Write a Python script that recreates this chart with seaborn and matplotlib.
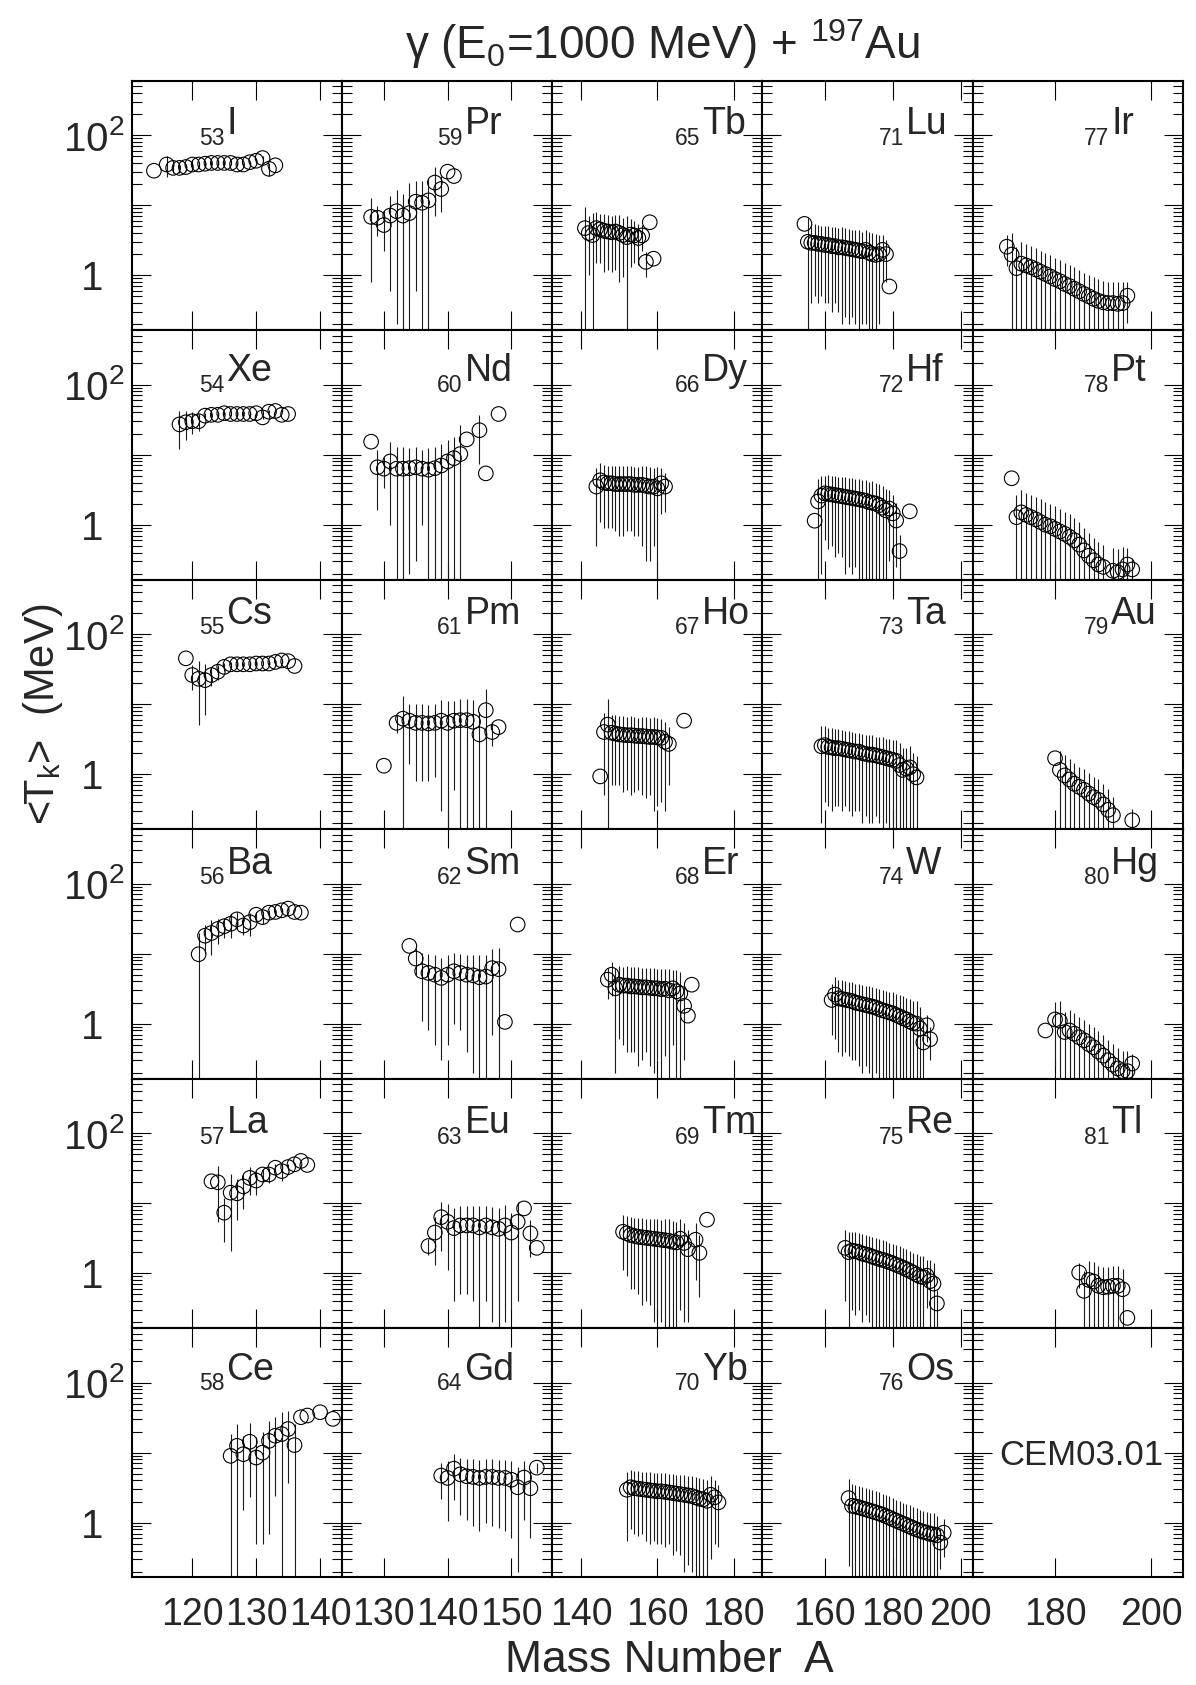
import matplotlib
matplotlib.use("Agg")
import matplotlib.pyplot as plt
from matplotlib.ticker import FixedLocator, FixedFormatter, LogLocator, NullFormatter, NullLocator
import numpy as np
import pandas as pd
import seaborn as sns

# ---- values: mass number A, <T_k> (MeV), error (MeV) ----
I_A = [114, 116, 117, 118, 119, 120, 121, 122, 123, 124, 125, 126, 127, 128, 129, 130, 131, 132, 133]
I_T = [31, 38, 34, 34, 35, 38, 38, 39, 40, 40, 40, 40, 38, 38, 41, 43, 47, 33, 37]
I_dT = [0, 13, 5, 5, 4, 6, 3, 3, 2, 2, 2, 2, 2, 2, 2, 3, 4, 7, 0]

Xe_A = [118, 119, 120, 121, 122, 123, 124, 125, 126, 127, 128, 129, 130, 131, 132, 133, 134, 135]
Xe_T = [27, 29, 30, 30, 36, 37, 37, 39, 38, 38, 38, 38, 39, 34, 41, 42, 37, 38]
Xe_dT = [15, 13, 10, 8, 3, 3, 2, 2, 2, 2, 2, 2, 2, 2, 2, 2, 0, 0]

Cs_A = [119, 120, 121, 122, 123, 124, 125, 126, 127, 128, 129, 130, 131, 132, 133, 134, 135, 136]
Cs_T = [45, 26, 23, 22, 26, 29, 34, 37, 37, 37, 37, 38, 38, 38, 40, 42, 41, 35]
Cs_dT = [0, 10, 18, 15, 8, 7, 4, 3, 2, 2, 2, 2, 2, 2, 2, 2, 2, 0]

Ba_A = [121, 122, 123, 124, 125, 126, 127, 128, 129, 130, 131, 132, 133, 134, 135, 136, 137]
Ba_T = [9.8, 18, 19.7, 22.5, 24.6, 26.6, 30.8, 25.2, 28.1, 35.9, 33.2, 38.4, 39.3, 41.5, 43.9, 39.3, 38.4]
Ba_dT = [10, 8, 10, 9, 8, 10, 8, 7, 10, 4, 7, 3, 3, 3, 2, 0, 0]

La_A = [123, 124, 125, 126, 127, 128, 129, 130, 131, 132, 133, 134, 135, 136, 137, 138]
La_T = [20.5, 19.8, 7.3, 14.1, 13.8, 17.3, 22.9, 21, 25.6, 25.6, 32, 28.6, 32.7, 35.8, 40, 35]
La_dT = [0, 14.5, 4.5, 12, 8, 9, 10, 8, 5, 6, 4, 8, 3, 2, 0, 0]

Ce_A = [126, 127, 128, 129, 130, 131, 132, 133, 134, 135, 136, 137, 138, 140, 142]
Ce_T = [9.0, 12.5, 9.5, 14.3, 8.5, 10.0, 14.7, 17.4, 18.4, 21.7, 12.8, 32, 33.8, 37.7, 30.3]
Ce_dT = [9.5, 13, 8, 12, 8, 9.5, 14, 15, 19, 18, 13, 0, 0, 0, 0]

Pr_A = [128, 129, 130, 131, 132, 133, 134, 135, 136, 137, 138, 139, 140, 141]
Pr_T = [6.8, 6.6, 5.2, 7.1, 8.2, 7.1, 7.7, 11.2, 10.8, 11.7, 21, 17, 30, 26]
Pr_dT = [6, 3, 3, 6.5, 8, 7.5, 13, 10.6, 11, 12, 14, 9, 0, 0]

Nd_A = [128, 129, 130, 131, 132, 133, 134, 135, 136, 137, 138, 139, 140, 141, 142, 143, 145, 146, 148]
Nd_T = [15.3, 6.6, 6.3, 8.0, 6.3, 6.3, 6.4, 6.6, 6.3, 6.1, 6.4, 7.0, 8.0, 8.9, 10.2, 16.5, 22.3, 5.4, 38]
Nd_dT = [0, 5, 3, 7, 6.5, 6.5, 6.2, 6.3, 5.3, 6.5, 6.6, 7.2, 8, 9, 16, 0, 15, 0, 0]

Pm_A = [130, 132, 133, 134, 135, 136, 137, 138, 139, 140, 141, 142, 143, 144, 145, 146, 147, 148]
Pm_T = [1.32, 5.4, 6.2, 5.8, 5.4, 5.4, 5.3, 5.4, 5.8, 5.4, 5.8, 5.9, 5.9, 5.6, 3.7, 8.2, 4.0, 4.7]
Pm_dT = [0, 1.5, 6.7, 4.4, 4.6, 4.6, 4.5, 4.5, 5.5, 5.6, 5.2, 5.8, 6.0, 5.8, 4.0, 8.3, 1.5, 0]

Sm_A = [134, 135, 136, 137, 138, 139, 140, 141, 142, 143, 144, 145, 146, 147, 148, 149, 151]
Sm_T = [12.9, 8.5, 5.6, 5.3, 5.0, 4.5, 5.0, 5.6, 5.3, 5.0, 4.9, 4.6, 4.7, 6.2, 6.0, 1.06, 26]
Sm_dT = [0, 3.5, 4.5, 4.5, 4.5, 4.2, 4.5, 4.6, 4.5, 4.6, 4.7, 4.8, 5.0, 5.5, 6.2, 0, 0]

Eu_A = [137, 138, 139, 140, 141, 142, 143, 144, 145, 146, 147, 148, 149, 150, 151, 152, 153, 154]
Eu_T = [2.44, 3.8, 6.3, 5.4, 4.4, 4.8, 4.8, 4.8, 4.5, 4.8, 4.5, 4.3, 4.8, 3.8, 5.4, 8.4, 3.7, 2.3]
Eu_dT = [0.6, 2.5, 4.2, 4.3, 4.0, 4.3, 4.3, 4.4, 4.5, 4.4, 4.3, 4.2, 4.6, 3.5, 5.0, 0, 2.0, 0]

Gd_A = [139, 140, 141, 142, 143, 144, 145, 146, 147, 148, 149, 150, 151, 152, 153, 154]
Gd_T = [4.7, 4.35, 5.9, 4.9, 4.6, 4.5, 4.35, 4.5, 4.5, 4.35, 4.35, 4.1, 3.2, 4.4, 3.1, 6.1]
Gd_dT = [2.5, 3.3, 3.8, 3.6, 3.5, 3.6, 3.6, 3.5, 3.6, 3.5, 3.6, 3.5, 3.0, 3.3, 2.5, 1.0]

Tb_A = [141, 142, 143, 144, 145, 146, 147, 148, 149, 150, 151, 152, 153, 154, 155, 156, 157, 158, 159]
Tb_T = [4.7, 4.0, 3.75, 4.7, 4.5, 4.3, 4.2, 4.1, 4.2, 4.0, 3.75, 3.5, 3.8, 3.7, 3.4, 3.7, 1.55, 5.7, 1.72]
Tb_dT = [4.8, 3.0, 4.0, 3.2, 3.0, 3.2, 3.0, 3.0, 3.0, 3.2, 2.8, 3.6, 2.5, 2.2, 2.0, 1.5, 0.6, 0, 0]

Dy_A = [144, 145, 146, 147, 148, 149, 150, 151, 152, 153, 154, 155, 156, 157, 158, 159, 160, 161, 162]
Dy_T = [3.5, 4.3, 4.0, 3.9, 3.9, 3.8, 3.8, 3.8, 3.8, 3.8, 3.7, 3.7, 3.7, 3.6, 3.5, 3.5, 3.3, 3.9, 3.5]
Dy_dT = [3.0, 3.2, 3.1, 3.0, 3.0, 3.0, 3.1, 3.1, 3.0, 3.0, 3.0, 3.0, 3.2, 3.3, 3.2, 3.0, 3.4, 2.5, 2.0]

Ho_A = [145, 146, 147, 148, 149, 150, 151, 152, 153, 154, 155, 156, 157, 158, 159, 160, 161, 162, 163, 167]
Ho_T = [0.93, 4.0, 5.1, 3.9, 3.8, 3.7, 3.65, 3.6, 3.6, 3.55, 3.5, 3.5, 3.45, 3.4, 3.4, 3.35, 3.3, 2.9, 2.7, 5.8]
Ho_dT = [0, 3.5, 6.7, 3.2, 3.1, 3.0, 3.1, 3.0, 3.1, 3.0, 2.9, 3.0, 3.0, 2.9, 3.1, 3.0, 2.9, 2.6, 2.0, 0]

Er_A = [147, 148, 149, 150, 151, 152, 153, 154, 155, 156, 157, 158, 159, 160, 161, 162, 163, 164, 165, 166, 167, 168, 169]
Er_T = [4.25, 5.0, 3.2, 3.6, 3.5, 3.5, 3.4, 3.4, 3.35, 3.3, 3.3, 3.25, 3.2, 3.2, 3.1, 3.15, 3.0, 3.2, 2.9, 2.7, 1.8, 1.3, 3.6]
Er_dT = [2.0, 2.5, 3.0, 3.0, 3.0, 3.1, 3.0, 3.0, 3.1, 3.0, 2.9, 3.0, 3.0, 2.9, 3.0, 2.8, 3.0, 2.7, 2.9, 2.8, 1.5, 0, 0]

Tm_A = [151, 152, 153, 154, 155, 156, 157, 158, 159, 160, 161, 162, 163, 164, 165, 166, 167, 168, 170, 171, 173]
Tm_T = [3.9, 3.7, 3.5, 3.4, 3.3, 3.25, 3.2, 3.15, 3.1, 3.05, 3.0, 2.95, 2.9, 2.8, 2.75, 3.1, 2.7, 2.2, 3.0, 1.95, 5.8]
Tm_dT = [2.8, 2.8, 2.9, 2.8, 2.8, 2.9, 2.8, 2.8, 2.9, 2.8, 2.8, 2.9, 3.0, 2.7, 2.6, 2.8, 2.5, 2.0, 2.2, 1.5, 0]

Yb_A = [152, 153, 154, 155, 156, 157, 158, 159, 160, 161, 162, 163, 164, 165, 166, 167, 168, 169, 170, 171,
        172, 173, 174, 175, 176]
Yb_T = [2.95, 3.2, 3.1, 3.05, 3.0, 2.95, 2.9, 2.85, 2.8, 2.8, 2.75, 2.7, 2.65, 2.6, 2.55, 2.5, 2.45, 2.4, 2.3,
        2.2, 2.15, 2.05, 2.5, 2.3, 1.95]
Yb_dT = [2.4, 2.4, 2.4, 2.4, 2.3, 2.4, 2.4, 2.3, 2.3, 2.3, 2.3, 2.2, 2.3, 2.2, 2.2, 2.3, 2.2, 2.2, 2.2, 2.1,
         2.0, 2.0, 2.2, 1.8, 1.5]

Lu_A = [154, 155, 156, 157, 158, 159, 160, 161, 162, 163, 164, 165, 166, 167, 168, 169, 170, 171, 172, 173,
        174, 175, 176, 177, 178, 179]
Lu_T = [5.4, 3.0, 2.9, 2.9, 2.8, 2.8, 2.7, 2.7, 2.6, 2.6, 2.5, 2.5, 2.45, 2.4, 2.35, 2.3, 2.25, 2.2, 2.3, 2.1,
        2.0, 1.95, 2.0, 2.3, 2.0, 0.69]
Lu_dT = [0, 3.5, 2.5, 2.4, 2.4, 2.3, 2.3, 2.3, 2.3, 2.2, 2.2, 2.3, 2.2, 2.2, 2.1, 2.1, 2.2, 2.0, 2.1, 2.0,
         2.0, 1.9, 1.8, 1.5, 1.2, 0]

Hf_A = [157, 158, 159, 160, 161, 162, 163, 164, 165, 166, 167, 168, 169, 170, 171, 172, 173, 174, 175, 176,
        177, 178, 179, 180, 181, 182, 185]
Hf_T = [1.14, 2.15, 2.6, 2.8, 2.75, 2.7, 2.65, 2.6, 2.55, 2.5, 2.45, 2.4, 2.35, 2.3, 2.25, 2.2, 2.1, 2.05,
        2.0, 1.9, 1.75, 1.6, 1.7, 1.45, 1.15, 0.42, 1.55]
Hf_dT = [0, 2.4, 2.4, 2.2, 2.3, 2.2, 2.3, 2.2, 2.2, 2.3, 2.2, 2.2, 2.1, 2.2, 2.1, 2.1, 2.0, 2.1, 2.0, 1.9,
         1.8, 1.6, 1.4, 1.2, 0.9, 0.3, 0]

Ta_A = [159, 160, 161, 162, 163, 164, 165, 166, 167, 168, 169, 170, 171, 172, 173, 174, 175, 176, 177, 178,
        179, 180, 181, 182, 183, 184, 185, 186, 187]
Ta_T = [2.5, 2.6, 2.45, 2.4, 2.35, 2.35, 2.3, 2.25, 2.2, 2.15, 2.1, 2.1, 2.0, 1.95, 1.9, 1.9, 1.85, 1.8, 1.75,
        1.7, 1.65, 1.6, 1.55, 1.35, 1.15, 1.2, 1.25, 1.0, 0.9]
Ta_dT = [2.3, 2.2, 2.1, 2.1, 2.0, 2.0, 2.0, 1.9, 1.9, 1.9, 1.8, 1.8, 1.8, 1.7, 1.7, 1.7, 1.6, 1.6, 1.6, 1.5,
         1.5, 1.5, 1.5, 1.4, 1.2, 1.2, 1.3, 1.0, 0.9]

W_A = [162, 163, 164, 165, 166, 167, 168, 169, 170, 171, 172, 173, 174, 175, 176, 177, 178, 179, 180, 181,
       182, 183, 184, 185, 186, 187, 188, 189, 190, 191]
W_T = [2.18, 2.6, 2.3, 2.25, 2.2, 2.15, 2.1, 2.0, 1.95, 1.9, 1.85, 1.8, 1.75, 1.7, 1.62, 1.55, 1.5, 1.45, 1.4,
       1.33, 1.27, 1.2, 1.15, 1.08, 1.02, 1.0, 0.85, 0.54, 0.95, 0.6]
W_dT = [1.5, 2.0, 1.9, 1.9, 1.8, 1.8, 1.8, 1.7, 1.7, 1.7, 1.6, 1.6, 1.6, 1.5, 1.5, 1.5, 1.4, 1.4, 1.4, 1.3,
        1.3, 1.3, 1.2, 1.2, 1.1, 1.1, 0.9, 0.5, 0.4, 0.3]

Re_A = [166, 167, 168, 169, 170, 171, 172, 173, 174, 175, 176, 177, 178, 179, 180, 181, 182, 183, 184, 185,
        186, 187, 188, 189, 190, 191, 192, 193]
Re_T = [2.3, 2.0, 2.1, 2.05, 2.0, 1.9, 1.85, 1.8, 1.72, 1.66, 1.6, 1.55, 1.5, 1.44, 1.38, 1.32, 1.26, 1.2,
        1.14, 1.08, 1.02, 0.96, 0.9, 0.88, 0.92, 0.77, 0.71, 0.37]
Re_dT = [1.9, 1.9, 1.8, 1.8, 1.7, 1.7, 1.6, 1.6, 1.55, 1.5, 1.45, 1.4, 1.35, 1.3, 1.25, 1.2, 1.15, 1.1,
         1.05, 1.0, 0.95, 0.9, 0.85, 0.85, 0.6, 0.75, 0.7, 0.2]

Os_A = [167, 168, 169, 170, 171, 172, 173, 174, 175, 176, 177, 178, 179, 180, 181, 182, 183, 184, 185, 186,
        187, 188, 189, 190, 191, 192, 193, 194, 195]
Os_T = [2.24, 1.74, 1.7, 1.66, 1.6, 1.55, 1.5, 1.45, 1.4, 1.35, 1.3, 1.24, 1.18, 1.12, 1.07, 1.02, 0.97,
        0.93, 0.88, 0.84, 0.8, 0.77, 0.74, 0.72, 0.69, 0.68, 0.66, 0.52, 0.72]
Os_dT = [2.0, 1.8, 1.7, 1.7, 1.6, 1.55, 1.5, 1.45, 1.4, 1.35, 1.3, 1.25, 1.2, 1.12, 1.07, 1.02, 0.97, 0.93,
         0.88, 0.84, 0.8, 0.77, 0.74, 0.72, 0.69, 0.68, 0.6, 0.3, 0.4]

Ir_A = [170, 171, 172, 173, 174, 175, 176, 177, 178, 179, 180, 181, 182, 183, 184, 185, 186, 187, 188, 189,
        190, 191, 192, 193, 194, 195]
Ir_T = [2.55, 1.97, 1.26, 1.46, 1.38, 1.30, 1.21, 1.12, 1.04, 0.96, 0.88, 0.82, 0.75, 0.70, 0.64, 0.59, 0.54,
        0.50, 0.46, 0.43, 0.41, 0.40, 0.40, 0.39, 0.40, 0.51]
Ir_dT = [1.2, 2.0, 1.3, 1.5, 1.4, 1.3, 1.2, 1.1, 1.05, 0.97, 0.9, 0.83, 0.76, 0.7, 0.65, 0.6, 0.55, 0.5,
         0.47, 0.44, 0.42, 0.4, 0.4, 0.4, 0.4, 0.3]

Pt_A = [171, 172, 173, 174, 175, 176, 177, 178, 179, 180, 181, 182, 183, 184, 185, 186, 187, 188, 189, 190,
        192, 193, 194, 195, 196]
Pt_T = [4.6, 1.28, 1.5, 1.38, 1.28, 1.19, 1.09, 1.0, 0.95, 0.87, 0.80, 0.74, 0.67, 0.60, 0.52, 0.43, 0.36,
        0.31, 0.27, 0.25, 0.22, 0.21, 0.23, 0.27, 0.23]
Pt_dT = [0, 1.4, 1.6, 1.5, 1.4, 1.3, 1.2, 1.1, 1.0, 0.95, 0.9, 0.8, 0.75, 0.66, 0.58, 0.48, 0.4, 0.34, 0.3,
         0.27, 0.25, 0.24, 0.25, 0.2, 0.1]

Au_A = [180, 181, 182, 183, 184, 185, 186, 187, 188, 189, 190, 191, 192, 196]
Au_T = [1.69, 1.15, 0.96, 0.84, 0.73, 0.66, 0.60, 0.53, 0.47, 0.43, 0.37, 0.31, 0.26, 0.22]
Au_dT = [0, 1.0, 0.9, 0.8, 0.7, 0.62, 0.57, 0.5, 0.45, 0.41, 0.35, 0.3, 0.22, 0.1]

Hg_A = [178, 180, 181, 182, 183, 184, 185, 186, 187, 188, 189, 190, 191, 192, 193, 194, 195, 196]
Hg_T = [0.80, 1.15, 1.1, 0.76, 0.8, 0.72, 0.64, 0.58, 0.51, 0.46, 0.40, 0.35, 0.30, 0.26, 0.23, 0.21, 0.21, 0.27]
Hg_dT = [0, 0.9, 1.0, 0.7, 0.75, 0.68, 0.6, 0.55, 0.48, 0.44, 0.38, 0.33, 0.28, 0.25, 0.22, 0.2, 0.2, 0.1]

Tl_A = [185, 186, 187, 188, 189, 190, 191, 192, 193, 194, 195]
Tl_T = [1.02, 0.56, 0.80, 0.76, 0.66, 0.63, 0.64, 0.66, 0.66, 0.59, 0.23]
Tl_dT = [0.4, 0.5, 0.7, 0.7, 0.6, 0.6, 0.6, 0.6, 0.6, 0.55, 0]

# panel grid: one column per 6 consecutive elements, Z = 53 ... 81
SYMBOLS = ["I", "Xe", "Cs", "Ba", "La", "Ce", "Pr", "Nd", "Pm", "Sm", "Eu", "Gd", "Tb", "Dy", "Ho",
           "Er", "Tm", "Yb", "Lu", "Hf", "Ta", "W", "Re", "Os", "Ir", "Pt", "Au", "Hg", "Tl"]
COL_XLIM = [(110.5, 143.4), (123.4, 156.4), (132.4, 187.5), (141.6, 203.5), (162.9, 206.5)]
COL_XTICKS = [[120, 130, 140], [130, 140, 150], [140, 160, 180], [160, 180, 200], [180, 200]]
LABEL_X = [0.452, 0.583, 0.713, 0.684, 0.659]   # where the element symbol starts
LABEL_Y = [0.785, 0.795, 0.822, 0.82, 0.78, 0.793]

frames = []
for z, sym in enumerate(SYMBOLS, start=53):
    a, t, dt = globals()[f"{sym}_A"], globals()[f"{sym}_T"], globals()[f"{sym}_dT"]
    frames.append(pd.DataFrame({"Z": z, "sym": sym, "A": a, "T": t, "dT": dt}))
df = pd.concat(frames, ignore_index=True)

sns.set_theme(style="ticks")
plt.rcParams["font.family"] = ["Liberation Sans", "DejaVu Sans"]
plt.rcParams["mathtext.fontset"] = "custom"
plt.rcParams["mathtext.rm"] = "Liberation Sans"
plt.rcParams["mathtext.it"] = "Liberation Sans:italic"
plt.rcParams["mathtext.default"] = "regular"

fig, axes = plt.subplots(6, 5, figsize=(11.96, 16.85), dpi=100, sharey=True, sharex="col",
                         gridspec_kw=dict(hspace=0, wspace=0))
fig.subplots_adjust(left=0.11, right=0.989, top=0.9522, bottom=0.0638)

for z, sym in enumerate(SYMBOLS, start=53):
    row, col = (z - 53) % 6, (z - 53) // 6
    ax = axes[row, col]
    sub = df[df["Z"] == z]
    ax.errorbar(sub["A"], sub["T"], yerr=sub["dT"], fmt="none", ecolor="#1a1a1a",
                elinewidth=0.8, capsize=0, zorder=2)
    sns.scatterplot(data=sub, x="A", y="T", ax=ax, marker="o", s=110, facecolor="none",
                    edgecolor="black", linewidth=0.8, legend=False, zorder=3)
    xy = (LABEL_X[col], LABEL_Y[row])
    ax.annotate(sym, xy=xy, xycoords="axes fraction", fontsize=27, ha="left", va="baseline")
    ax.annotate(str(z), xy=xy, xycoords="axes fraction", xytext=(-1.5, -7.5),
                textcoords="offset points", fontsize=16.5, ha="right", va="baseline")

axes[5, 4].text(0.515, 0.49, "CEM03.01", transform=axes[5, 4].transAxes,
                fontsize=25, ha="center", va="center")

for (row, col), ax in np.ndenumerate(axes):
    ax.set_xlabel("")
    ax.set_ylabel("")
    ax.set_yscale("log")
    ax.set_ylim(0.165, 600)
    ax.set_xlim(*COL_XLIM[col])
    ax.xaxis.set_major_locator(FixedLocator(COL_XTICKS[col]))
    ax.xaxis.set_minor_locator(NullLocator())
    ax.yaxis.set_major_locator(FixedLocator([1, 10, 100]))
    ax.yaxis.set_major_formatter(FixedFormatter(["1", "", "$10^2$"]))
    ax.yaxis.set_minor_locator(LogLocator(base=10, subs=np.arange(2, 10), numticks=30))
    ax.yaxis.set_minor_formatter(NullFormatter())
    ax.tick_params(which="both", direction="in", top=True, right=True, width=0.8, color="black")
    ax.tick_params(axis="x", which="major", length=14, labelsize=27, pad=14)
    ax.tick_params(axis="y", which="major", length=14, labelsize=29)
    ax.tick_params(axis="y", which="minor", length=7)
    for spine in ax.spines.values():
        spine.set_linewidth(1.5)
        spine.set_color("black")

# base digits of "1" and "10^2" line up, as in the original
for ax in axes[:, 0]:
    ticks = ax.yaxis.get_major_ticks()
    ticks[0].set_pad(20)
    ticks[2].set_pad(5)

fig.text(0.554, 0.9648, r"$\gamma$ (E$_0$=1000 MeV) + $^{197}$Au", ha="center", va="baseline", fontsize=33)
fig.text(0.036, 0.576, r"<T$_k$>  (MeV)", rotation=90, ha="center", va="center", fontsize=30)
fig.text(0.56, 0.0148, "Mass Number  A", ha="center", va="center", fontsize=32)

fig.savefig("out.png", dpi=100)
